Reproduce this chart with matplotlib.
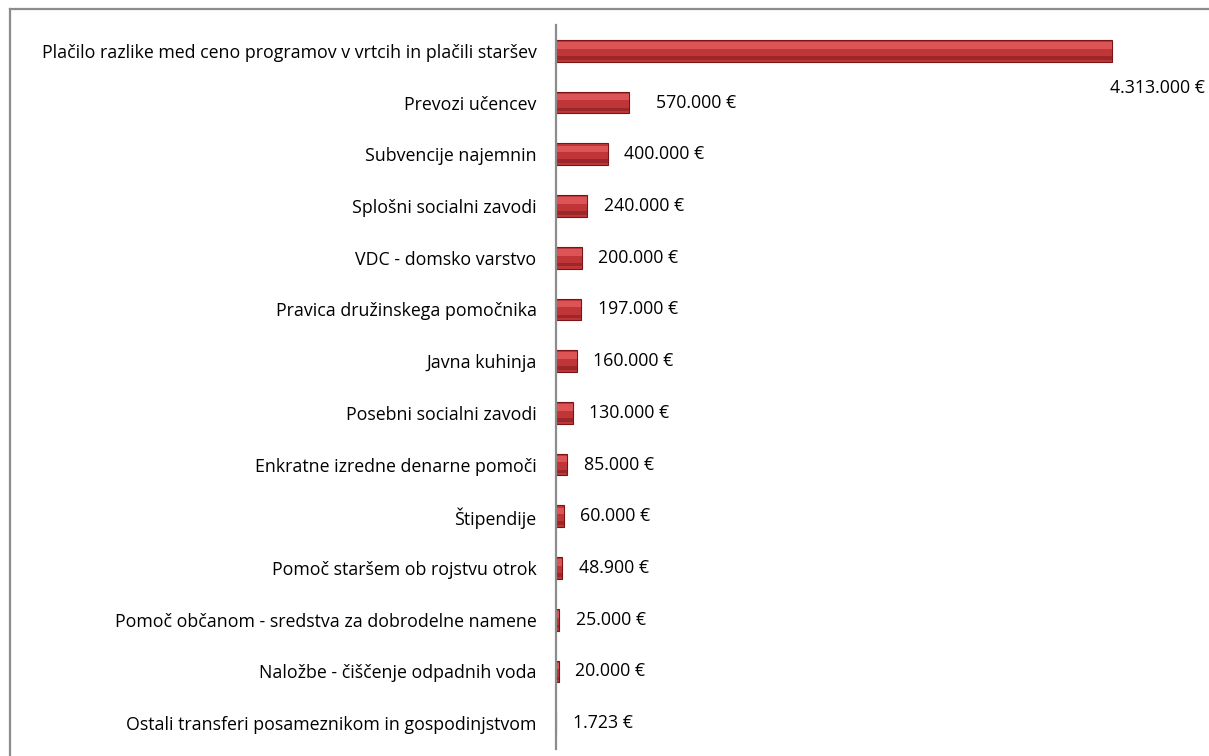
import numpy as np
import matplotlib.pyplot as plt
from matplotlib.lines import Line2D

categories = [
    'Plačilo razlike med ceno programov v vrtcih in plačili staršev',
    'Prevozi učencev',
    'Subvencije najemnin',
    'Splošni socialni zavodi',
    'VDC - domsko varstvo',
    'Pravica družinskega pomočnika',
    'Javna kuhinja',
    'Posebni socialni zavodi',
    'Enkratne izredne denarne pomoči',
    'Štipendije',
    'Pomoč staršem ob rojstvu otrok',
    'Pomoč občanom - sredstva za dobrodelne namene',
    'Naložbe - čiščenje odpadnih voda',
    'Ostali transferi posameznikom in gospodinjstvom',
]
values = [4313000, 570000, 400000, 240000, 200000, 197000, 160000,
          130000, 85000, 60000, 48900, 25000, 20000, 1723]

def fmt(v):
    return '{:,}'.format(v).replace(',', '.') + ' €'

plt.rcParams['font.family'] = ['Open Sans', 'DejaVu Sans']
fs = 12.8

fig = plt.figure(figsize=(12.09, 7.56), dpi=100)
ax = fig.add_axes([556 / 1209, 7 / 756, (1180 - 556) / 1209, (749 - 25) / 756])

y = np.arange(len(categories))
h = 0.42
ax.barh(y, values, height=h, color='#c03638', edgecolor='#7a1516', linewidth=0.8, zorder=2)
# bevel: lighter top, darker bottom
ax.barh(y - h * 0.25, values, height=h * 0.3, color='#dc5455', linewidth=0, zorder=3)
ax.barh(y + h * 0.32, values, height=h * 0.16, color='#9c2729', linewidth=0, zorder=3)

ax.set_xlim(0, 4313000 * (1180 - 556) / 556)
ax.set_ylim(len(categories) - 0.5, -0.5)
ax.set_yticks(y)
ax.set_yticklabels(categories, fontsize=fs)
ax.tick_params(axis='y', length=0, pad=14)
ax.set_xticks([])
for s in ['top', 'right', 'bottom']:
    ax.spines[s].set_visible(False)
ax.spines['left'].set_color('#8c8c8c')
ax.spines['left'].set_linewidth(1.6)
ax.spines['left'].set_zorder(4)

for i, v in enumerate(values):
    if i == 0:
        ax.annotate(fmt(v), (v, i), xytext=(67, -27), textcoords='offset points',
                    ha='right', va='center', fontsize=fs)
    else:
        dx = 19 if i == 1 else 12
        ax.annotate(fmt(v), (v, i), xytext=(dx, 0), textcoords='offset points',
                    ha='left', va='center', fontsize=fs)

# chart frame (cropped)
fig.add_artist(Line2D([10 / 1209, 1], [1 - 9 / 756, 1 - 9 / 756], color='#8c8c8c', lw=1.6))
fig.add_artist(Line2D([10 / 1209, 10 / 1209], [0, 1 - 9 / 756], color='#8c8c8c', lw=1.6))

fig.savefig('out.png', dpi=100)
